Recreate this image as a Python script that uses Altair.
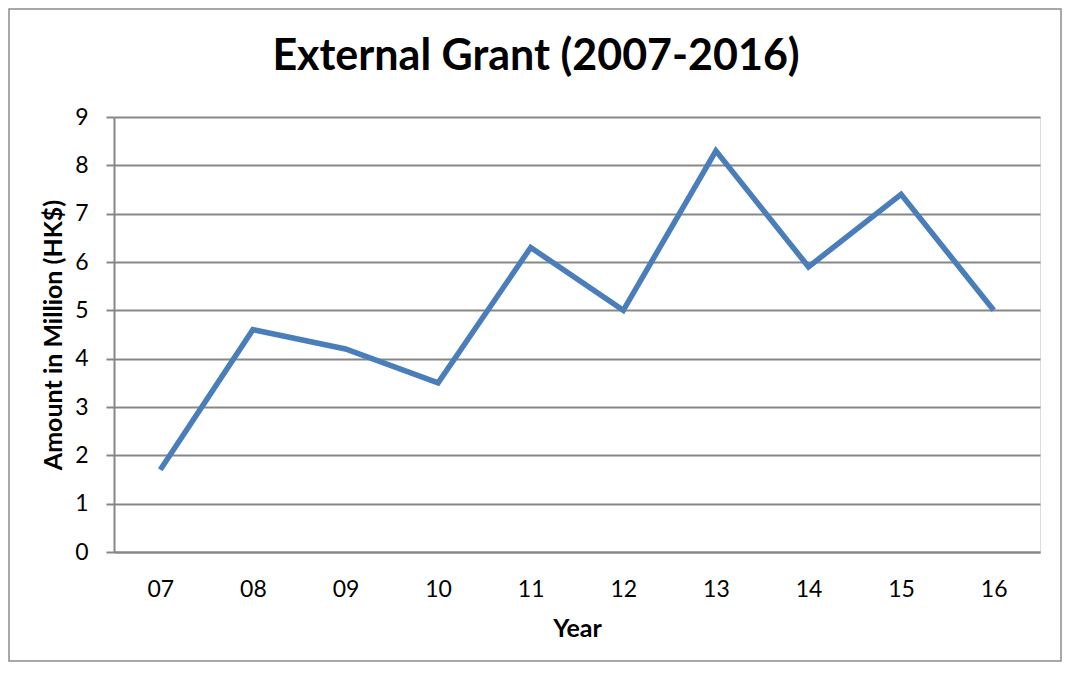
import altair as alt
import pandas as pd

years = ["07", "08", "09", "10", "11", "12", "13", "14", "15", "16"]
amounts = [1.7, 4.6, 4.2, 3.5, 6.3, 5.0, 8.3, 5.9, 7.4, 5.0]
y_ticks = [0, 1, 2, 3, 4, 5, 6, 7, 8, 9]
title_text = "External Grant (2007-2016)"

df = pd.DataFrame({"Year": years, "Amount": amounts})

FONT = "Lato"
GRID = "#878787"
W, H = 926, 435

line = alt.Chart(df).mark_line(color="#4A7EBB", strokeWidth=5.5, strokeJoin="miter", strokeCap="butt").encode(
    x=alt.X("Year:O", sort=years, scale=alt.Scale(type="point", padding=0.5),
            axis=alt.Axis(title="Year", labelAngle=0, ticks=False, tickSize=0, domain=True,
                          domainColor=GRID, domainWidth=2, grid=False,
                          labelFont=FONT, labelFontSize=23, labelColor="#000000",
                          labelBaseline="alphabetic", labelPadding=44,
                          titleFont=FONT, titleFontSize=25, titleFontWeight="bold", titleColor="#000000",
                          titleX=W / 2, titleY=84, titleBaseline="alphabetic", titleAlign="center",
                          titleLimit=1000)),
    y=alt.Y("Amount:Q", scale=alt.Scale(domain=[0, 9], nice=False, zero=True),
            axis=alt.Axis(title="Amount in Million (HK$)", values=y_ticks, tickCount=10,
                          grid=True, gridColor=GRID, gridWidth=2, gridOpacity=1,
                          ticks=True, tickSize=8, tickColor=GRID, tickWidth=2,
                          domain=True, domainColor=GRID, domainWidth=2,
                          labelFont=FONT, labelFontSize=23, labelColor="#000000", labelPadding=18,
                          titleFont=FONT, titleFontSize=25, titleFontWeight="bold", titleColor="#000000",
                          titleX=-61, titleY=H / 2, titleAngle=-90, titleAlign="center",
                          titleBaseline="middle", titleLimit=1000)),
)

title = alt.Chart(alt.Data(values=[{"t": title_text}])).mark_text(
    font=FONT, fontSize=43, fontWeight="bold", color="#000000", align="center", baseline="alphabetic"
).encode(text="t:N", x=alt.value(422), y=alt.value(-47))

border = alt.Chart(alt.Data(values=[{}])).mark_rect(
    fill=None, stroke="#8c8c8c", strokeWidth=1.5
).encode(x=alt.value(-105), x2=alt.value(947), y=alt.value(-108), y2=alt.value(544))

chart = alt.layer(border, line, title).properties(
    width=W, height=H,
    autosize=alt.AutoSizeParams(type="none"),
    padding={"left": 106, "top": 109, "right": 22, "bottom": 110},
).configure_view(stroke=None).configure(background="#ffffff")

chart.save("out.html", embed_options={"renderer": "svg", "actions": False})
